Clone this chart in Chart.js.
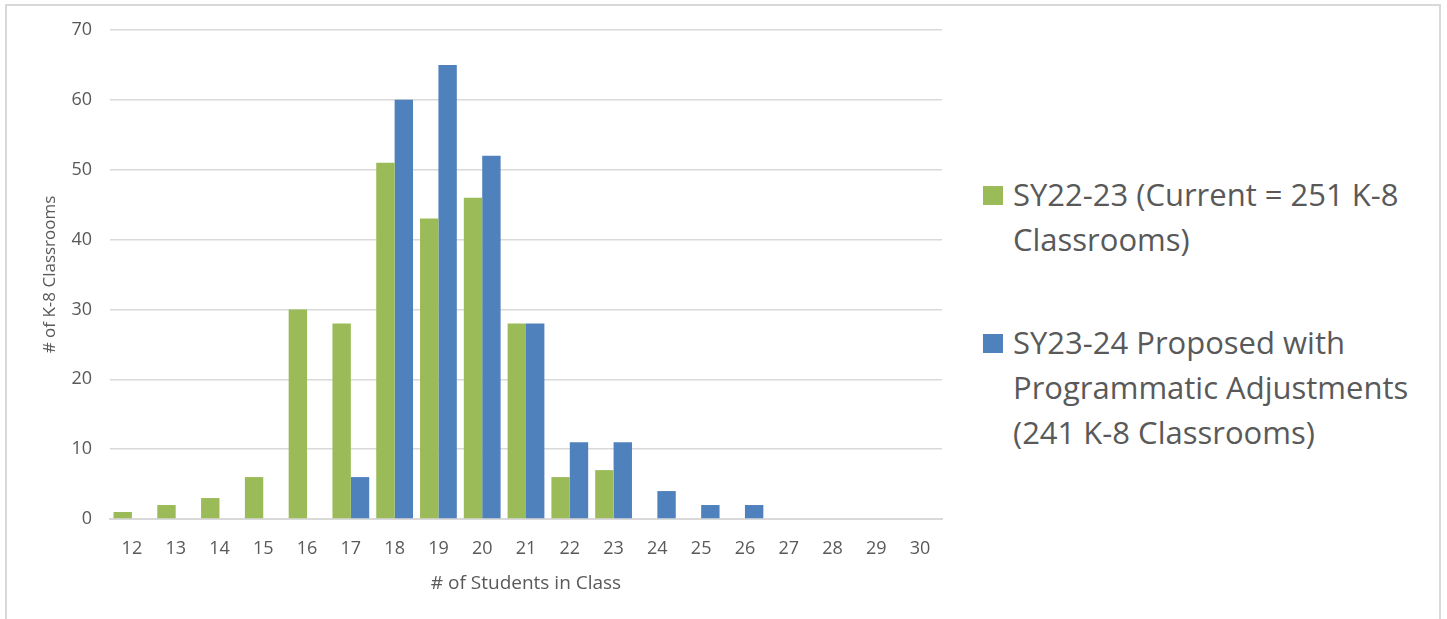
<!DOCTYPE html>
<html>
<head>
<meta charset="utf-8">
<script src="https://cdn.jsdelivr.net/npm/chart.js@4"></script>
<style>
  html, body { margin: 0; padding: 0; background: #fff; }
  body { width: 1447px; height: 619px; position: relative; overflow: hidden; font-family: 'Open Sans', sans-serif; }
  #frame { position: absolute; left: 5px; top: 4px; width: 1436px; height: 640px; border: 2px solid #d9d9d9; box-sizing: border-box; }
  #wrap { position: absolute; left: 0; top: 0; width: 960px; height: 619px; }
  #legend { position: absolute; left: 983px; top: 172px; color: #595959; font-size: 31px; line-height: 45px; }
  .item { position: relative; padding-left: 30px; width: 430px; }
  .item + .item { margin-top: 58px; }
  .sw { position: absolute; left: 0; top: 14px; width: 20px; height: 19px; }
</style>
</head>
<body>
<div id="frame"></div>
<div id="wrap"><canvas id="graphics"></canvas></div>
<div id="legend"></div>
<script>
const classSizes = ['12','13','14','15','16','17','18','19','20','21','22','23','24','25','26','27','28','29','30'];
const current = [1, 2, 3, 6, 30, 28, 51, 43, 46, 28, 6, 7, 0, 0, 0, 0, 0, 0, 0];
const proposed = [0, 0, 0, 0, 0, 6, 60, 65, 52, 28, 11, 11, 4, 2, 2, 0, 0, 0, 0];
const seriesNames = ['SY22-23 (Current = 251 K-8 Classrooms)', 'SY23-24 Proposed with Programmatic Adjustments (241 K-8 Classrooms)'];
const seriesColors = ['#9bbb59', '#4f81bd'];
const yTicks = [0, 10, 20, 30, 40, 50, 60, 70];

Chart.defaults.font.family = "'Open Sans', sans-serif";
Chart.defaults.color = '#595959';

const ctx = document.getElementById('graphics');

const myChart = new Chart(ctx, {
    type: 'bar',
    data: {
        labels: classSizes,
        datasets: [{
            label: seriesNames[0],
            data: current,
            backgroundColor: seriesColors[0],
            borderWidth: 0
        }, {
            label: seriesNames[1],
            data: proposed,
            backgroundColor: seriesColors[1],
            borderWidth: 0
        }]
    },
    options: {
        responsive: true,
        maintainAspectRatio: false,
        animation: false,
        layout: { padding: { top: 30, left: 0, right: 18, bottom: 0 } },
        datasets: { bar: { categoryPercentage: 0.84, barPercentage: 1 } },
        plugins: { legend: { display: false }, tooltip: { enabled: false } },
        scales: {
            x: {
                grid: { display: false, drawTicks: false },
                border: { color: '#d9d9d9', width: 2 },
                ticks: { autoSkip: false, maxRotation: 0, padding: 19, font: { size: 18 } },
                title: { display: true, text: '# of Students in Class', font: { size: 19 }, padding: { top: 8, bottom: 24 } },
                afterFit: (scale) => { scale.height = 100; }
            },
            y: {
                min: 0,
                max: 70,
                afterBuildTicks: (scale) => { scale.ticks = yTicks.map(v => ({ value: v })); },
                grid: { color: '#d9d9d9', lineWidth: 1.5, drawTicks: false },
                border: { display: false },
                ticks: { padding: 18, font: { size: 18 } },
                title: { display: true, text: '# of K-8 Classrooms', font: { size: 17 }, padding: { top: 40 } },
                afterFit: (scale) => { scale.width = 110; }
            }
        }
    }
});

const legendEl = document.getElementById('legend');
seriesNames.forEach((name, i) => {
    const item = document.createElement('div');
    item.className = 'item';
    item.innerHTML = '<span class="sw" style="background:' + seriesColors[i] + '"></span>' + name;
    legendEl.appendChild(item);
});
</script>
</body>
</html>
